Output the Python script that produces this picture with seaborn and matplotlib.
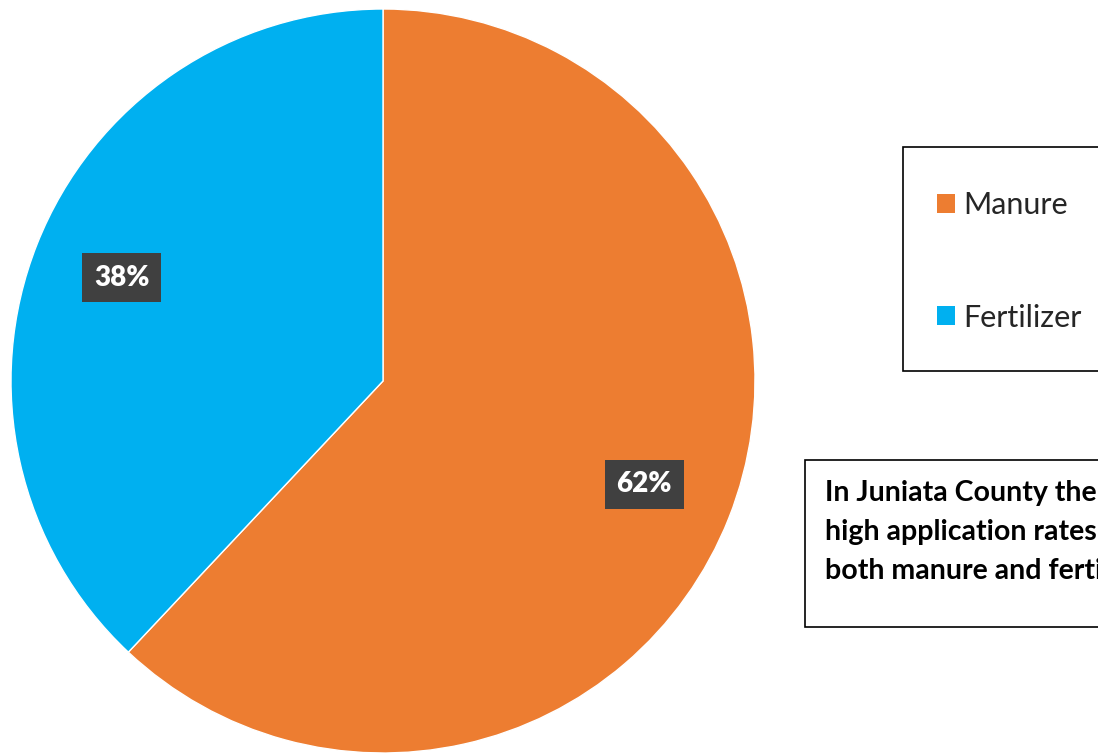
import matplotlib
matplotlib.use("Agg")
import matplotlib.pyplot as plt
import seaborn as sns
from matplotlib.patches import Rectangle

sns.set_theme(style="white")
plt.rcParams['font.family'] = ['Lato', 'DejaVu Sans']

categories = ["Manure", "Fertilizer"]
values = [62, 38]
colors = ["#ED7D31", "#00B0F0"]
note = "In Juniata County there are\nhigh application rates of\nboth manure and fertilizer"

fig = plt.figure(figsize=(10.98, 7.53), dpi=100)
fig.patch.set_facecolor("white")
ax = fig.add_axes([11/1098, 0.0, 744/1098, 744/753])
wedges, texts, autotexts = ax.pie(
    values, colors=colors, startangle=90, counterclock=False,
    autopct=lambda p: f"{p:.0f}%", pctdistance=0.755,
    wedgeprops=dict(edgecolor="white", linewidth=1),
    textprops=dict(color="white", fontsize=20, fontweight="heavy"))
for t in autotexts:
    t.set_bbox(dict(facecolor="#404040", edgecolor="none", boxstyle="square,pad=0.42"))
ax.set_xlim(-1, 1)
ax.set_ylim(-1, 1)
ax.set_aspect("equal")
ax.axis("off")

W, H = 1098, 753
# legend frame
fig.patches.append(Rectangle((903/W, 1-371/H), 250/W, 224/H, transform=fig.transFigure,
                             facecolor="white", edgecolor="black", linewidth=1.2, zorder=0))
leg = fig.legend(wedges, categories, loc="center left", bbox_to_anchor=(937/W, 1-261.5/H),
                 frameon=False, fontsize=22, labelspacing=2.76, handlelength=0.59,
                 handleheight=0.59, handletextpad=0.26, borderpad=0, borderaxespad=0)
for h in leg.legend_handles:
    h.set_edgecolor("none")

# note box
fig.patches.append(Rectangle((805/W, 1-627/H), 350/W, 167/H, transform=fig.transFigure,
                             facecolor="white", edgecolor="black", linewidth=1.2, zorder=0))
fig.text(825/W, 1-480/H, note, ha="left", va="top", fontsize=20.5, fontweight="bold",
         color="black", linespacing=1.61)

fig.savefig("out.png", dpi=100)
